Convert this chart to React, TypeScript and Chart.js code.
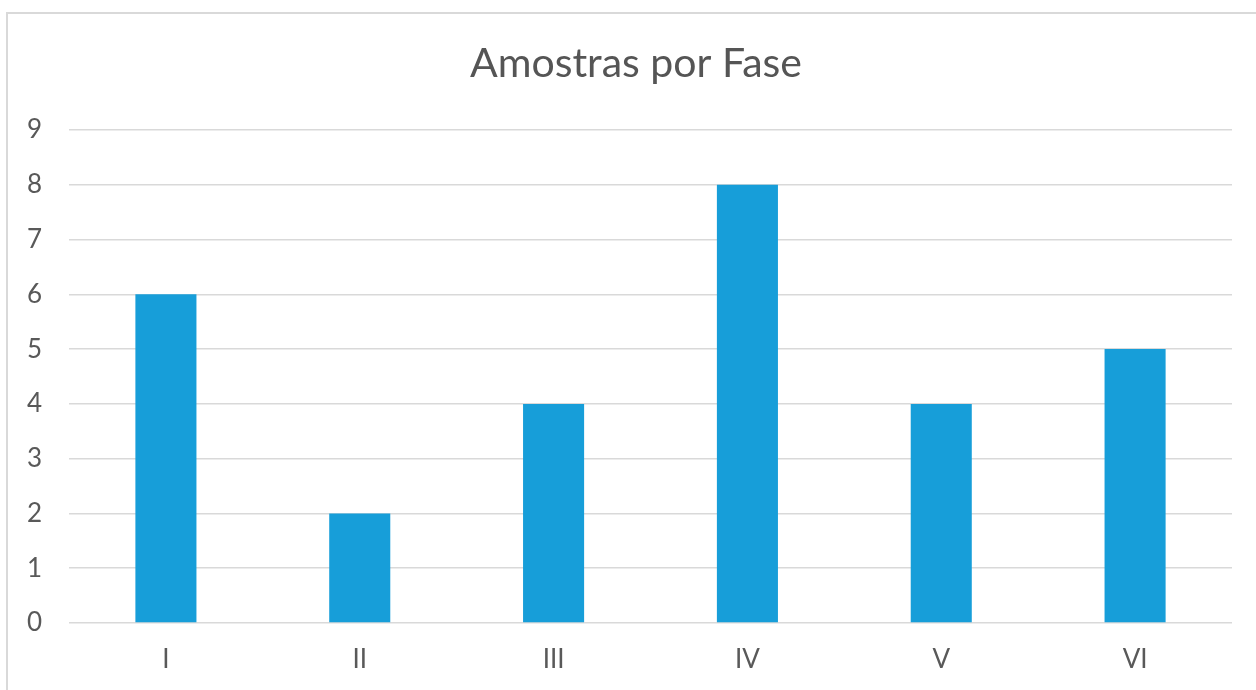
import React, { useEffect, useRef } from "react";
import { Chart, registerables } from "chart.js";

Chart.register(...registerables);

const categories = ["I", "II", "III", "IV", "V", "VI"];
const amostras = [6, 2, 4, 8, 4, 5];
const chartTitle = "Amostras por Fase";
const yMin = 0;
const yMax = 9;

const titlePlugin = {
  id: "centeredTitle",
  afterDraw(chart: any) {
    const ctx = chart.ctx;
    ctx.save();
    ctx.font = "normal 41px Lato";
    ctx.fillStyle = "#555555";
    ctx.textAlign = "center";
    ctx.textBaseline = "middle";
    ctx.fillText(chartTitle, 636, 64);
    ctx.restore();
  },
};

export default function App() {
  const ref = useRef<HTMLCanvasElement | null>(null);

  useEffect(() => {
    if (!ref.current) return;
    const chart = new Chart(ref.current, {
      type: "bar",
      data: {
        labels: categories,
        datasets: [
          {
            label: "Amostras",
            data: amostras,
            backgroundColor: "#179ED9",
            borderWidth: 0,
            barPercentage: 0.315,
            categoryPercentage: 1,
          },
        ],
      },
      options: {
        animation: false,
        responsive: false,
        maintainAspectRatio: false,
        layout: { padding: { left: 0, right: 24, top: 130, bottom: 0 } },
        plugins: {
          legend: { display: false },
          tooltip: { enabled: false },
          title: { display: false },
        },
        scales: {
          x: {
            grid: { display: false, drawTicks: false },
            border: { display: false },
            ticks: {
              color: "#595959",
              font: { family: "Lato", size: 26 },
              padding: 21,
            },
            afterFit: (scale: any) => {
              scale.height = 67;
            },
          },
          y: {
            min: yMin,
            max: yMax,
            grid: { color: "#d9d9d9", lineWidth: 1.6, drawTicks: false },
            border: { display: false },
            ticks: {
              stepSize: 1,
              color: "#595959",
              font: { family: "Lato", size: 26 },
              padding: 27,
            },
            afterFit: (scale: any) => {
              scale.width = 69;
            },
          },
        },
      },
      plugins: [titlePlugin],
    });
    return () => chart.destroy();
  }, []);

  return (
    <div style={{ position: "absolute", left: 0, top: 0, width: 1256, height: 690, overflow: "hidden", background: "#fff" }}>
      <div
        style={{
          position: "absolute",
          left: 6,
          top: 12,
          width: 1400,
          height: 800,
          border: "2px solid #d9d9d9",
          boxSizing: "border-box",
        }}
      />
      <canvas ref={ref} width={1256} height={690} style={{ position: "absolute", left: 0, top: 0, width: 1256, height: 690 }} />
    </div>
  );
}
